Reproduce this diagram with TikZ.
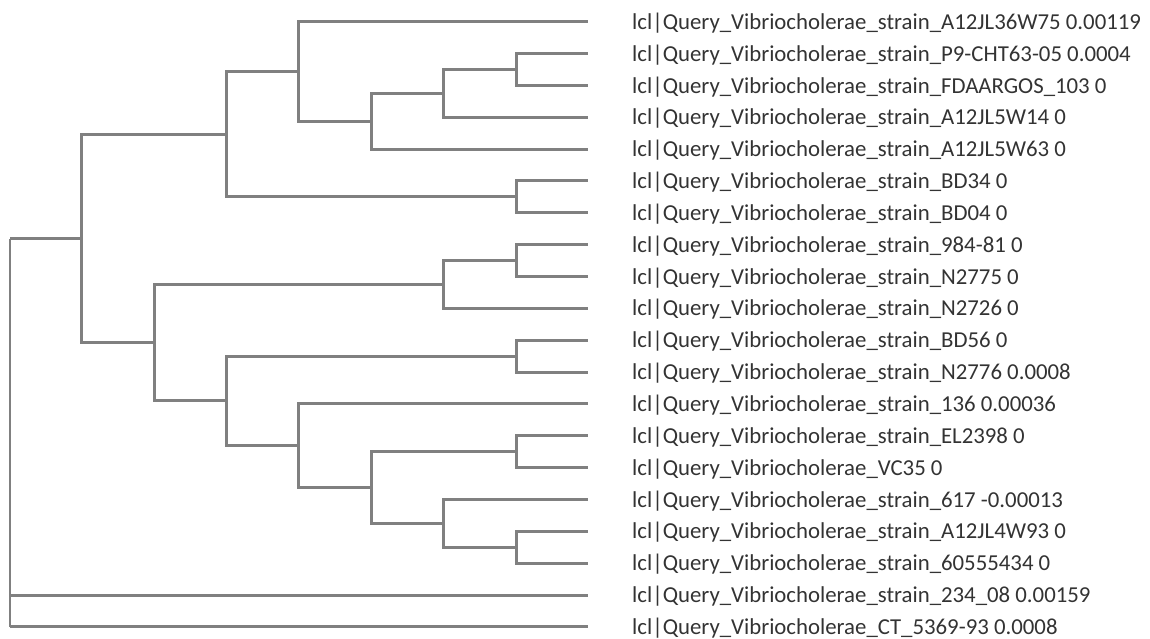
\documentclass[tikz,border=0pt]{standalone}
\usepackage{fontspec}
\usepackage{tikz}
\usetikzlibrary{calc}
\newfontfamily\labelfont{Carlito}
\definecolor{treeGrey}{HTML}{808080}
\definecolor{labelGrey}{HTML}{333333}

\begin{document}
\begin{tikzpicture}[x=1pt,y=-1pt,
  branch/.style={draw=treeGrey,line width=3pt},
  leaflab/.style={anchor=base west,inner sep=0pt,text=labelGrey,font=\labelfont\fontsize{22.8}{26}\selectfont}]
\useasboundingbox (0,0) rectangle (1150,638);
% leaves: tip of branch and label
\foreach \i/\lab in {
  0/{lcl|Query\_Vibriocholerae\_strain\_A12JL36W75 0.00119},
  1/{lcl|Query\_Vibriocholerae\_strain\_P9-CHT63-05 0.0004},
  2/{lcl|Query\_Vibriocholerae\_strain\_FDAARGOS\_103 0},
  3/{lcl|Query\_Vibriocholerae\_strain\_A12JL5W14 0},
  4/{lcl|Query\_Vibriocholerae\_strain\_A12JL5W63 0},
  5/{lcl|Query\_Vibriocholerae\_strain\_BD34 0},
  6/{lcl|Query\_Vibriocholerae\_strain\_BD04 0},
  7/{lcl|Query\_Vibriocholerae\_strain\_984-81 0},
  8/{lcl|Query\_Vibriocholerae\_strain\_N2775 0},
  9/{lcl|Query\_Vibriocholerae\_strain\_N2726 0},
  10/{lcl|Query\_Vibriocholerae\_strain\_BD56 0},
  11/{lcl|Query\_Vibriocholerae\_strain\_N2776 0.0008},
  12/{lcl|Query\_Vibriocholerae\_strain\_136 0.00036},
  13/{lcl|Query\_Vibriocholerae\_strain\_EL2398 0},
  14/{lcl|Query\_Vibriocholerae\_VC35 0},
  15/{lcl|Query\_Vibriocholerae\_strain\_617 -0.00013},
  16/{lcl|Query\_Vibriocholerae\_strain\_A12JL4W93 0},
  17/{lcl|Query\_Vibriocholerae\_strain\_60555434 0},
  18/{lcl|Query\_Vibriocholerae\_strain\_234\_08 0.00159},
  19/{lcl|Query\_Vibriocholerae\_CT\_5369-93 0.0008}}{
  \pgfmathsetmacro\ty{21.7+31.85*\i}
  \coordinate (l\i) at (588,\ty);
  \node[leaflab] (t\i) at (632,\ty+7.6) {\lab};
}
% internal nodes
\coordinate (root) at (10,238.5);
\coordinate (A) at (81,238.5);
\coordinate (B) at (226,134.2);
\coordinate (C) at (298,71.5);
\coordinate (E) at (371,121.2);
\coordinate (F) at (443,93.4);
\coordinate (G) at (516,69.5);
\coordinate (D) at (516,196.9);
\coordinate (H) at (154,342.7);
\coordinate (I) at (443,284.5);
\coordinate (K) at (516,260.6);
\coordinate (J) at (226,400.9);
\coordinate (L) at (516,356.1);
\coordinate (M) at (298,445.7);
\coordinate (N) at (371,487.5);
\coordinate (O) at (516,451.7);
\coordinate (P) at (443,523.3);
\coordinate (Q) at (516,547.2);
% branches
\foreach \p/\c in {A/B,A/H,B/C,B/D,C/l0,C/E,E/F,E/l4,F/G,F/l3,G/l1,G/l2,D/l5,D/l6,
  H/I,H/J,I/K,I/l9,K/l7,K/l8,J/L,J/M,L/l10,L/l11,M/l12,M/N,N/O,N/P,O/l13,O/l14,
  P/l15,P/Q,Q/l16,Q/l17}
  \draw[branch] (\p) |- (\c);
% root
\draw[branch,line width=2pt] (root) -- (root |- l19);
\draw[branch] (root) -- (A);
\draw[branch] (root |- l18) -- (l18);
\draw[branch] (root |- l19) -- (l19);
\end{tikzpicture}
\end{document}
